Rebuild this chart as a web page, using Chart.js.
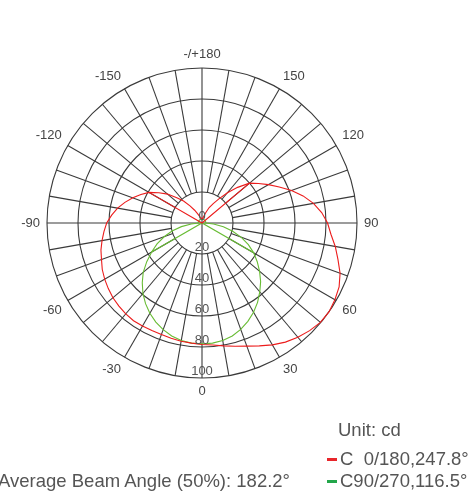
<!DOCTYPE html>
<html>
<head>
<meta charset="utf-8">
<script src="https://cdn.jsdelivr.net/npm/chart.js@4.4.0/dist/chart.umd.min.js"></script>
<style>
  body { margin: 0; background: #fff; font-family: "Liberation Sans", Arial, sans-serif; color: #555; }
  #wrap { position: relative; width: 474px; height: 493px; overflow: hidden; }
  #c { position: absolute; left: 0; top: 0; }
  .txt { position: absolute; font-size: 18.5px; line-height: 1; white-space: pre; }
  .dash { position: absolute; width: 10px; height: 3px; }
</style>
</head>
<body>
<div id="wrap">
  <canvas id="c" width="474" height="493"></canvas>
  <div class="txt" style="left:338px; top:421px;">Unit: cd</div>
  <div class="dash" style="left:327px; top:458px; background:#e8262b;"></div>
  <div class="txt" style="left:340px; top:450px;">C  0/180,247.8°</div>
  <div class="dash" style="left:327px; top:480px; background:#23a64a;"></div>
  <div class="txt" style="left:340px; top:472px;">C90/270,116.5°</div>
  <div class="txt" style="right:184px; top:472px;">Average Beam Angle (50%): 182.2°</div>
</div>
<script>
// gamma angles, clockwise from the top (180) round to -175
var angles = [];
for (var a = 180; a > -180; a -= 5) angles.push(a);

// relative intensity (0..100)
var redValues = [
  3, 3, 3, 4.5, 7, 11, 14.5, 19, 25.5, 32.5, 40, 44.5,
  49.5, 55, 61.5, 67.5, 73, 77.5, 81, 83.5, 87.3, 90.8, 94.8, 97.6,
  99, 100, 99.7, 98.2, 96.2, 93.8, 90.8, 87.5, 84.5, 82.3, 80.5, 79,
  78.4, 77.8, 77.5, 77, 76.5, 76.5, 76.8, 77, 76.5, 75.8, 75, 73.8,
  72.5, 71, 69, 67.5, 65.5, 63.5, 61.5, 58.5, 55.3, 51.5, 47.5, 43.5,
  39.5, 34, 29, 23, 18.5, 13.5, 9.5, 6.5, 4.5, 3.5, 3, 3
];
var greenValues = [
  2.5, 2.5, 2.5, 2.5, 2.5, 2.5, 2.5, 2.5, 2.5, 2.5, 2.5, 2.5,
  2.5, 2.5, 2.5, 2.5, 2.5, 2.5, 2, 7.5, 14, 20.5, 27, 33,
  38.5, 43.5, 48.5, 53.5, 58, 62.5, 66.5, 70, 73, 75.5, 77, 77.8,
  78, 77.8, 77, 75.5, 73.2, 70.5, 67.3, 63.5, 59.3, 54.5, 49.5, 43.5,
  37.5, 32, 26, 20, 13.5, 7, 2, 2.5, 2.5, 2.5, 2.5, 2.5,
  2.5, 2.5, 2.5, 2.5, 2.5, 2.5, 2.5, 2.5, 2.5, 2.5, 2.5, 2.5
];
// the straight strokes from the pole out to the curve
var redSpikeAngles = [130, -120];
var greenSpikeAngles = [60, -60];

var ringTicks = [0, 20, 40, 60, 80, 100];
var angleTicks = [180, 150, 120, 90, 60, 30, 0, -30, -60, -90, -120, -150];

function spikeData(values, spikeAngles) {
  var out = angles.map(function () { return null; });
  out[0] = 0;
  spikeAngles.forEach(function (a, k) {
    var i = angles.indexOf(a);
    out[i] = values[i];
    if (k < spikeAngles.length - 1) out[i + 10] = 0;
  });
  return out;
}

var GRID = '#3a3a3a';

var polarDecor = {
  id: 'polarDecor',
  beforeDatasetsDraw: function (chart) {
    var r = chart.scales.r, ctx = chart.ctx;
    ctx.save();
    ctx.strokeStyle = GRID;
    ctx.lineWidth = 1.1;
    // spokes every 10 deg, starting at the 20 ring
    for (var i = 0; i < angles.length; i += 2) {
      if (i % 18 === 0) continue;
      var p1 = r.getPointPositionForValue(i, 20);
      var p2 = r.getPointPositionForValue(i, 100);
      ctx.beginPath();
      ctx.moveTo(p1.x, p1.y);
      ctx.lineTo(p2.x, p2.y);
      ctx.stroke();
    }
    ctx.restore();
  },
  afterDraw: function (chart) {
    var r = chart.scales.r, ctx = chart.ctx;
    ctx.save();
    ctx.font = '13px "Liberation Sans", Arial, sans-serif';
    // ring values down the 0 axis
    ctx.fillStyle = '#555';
    ctx.textAlign = 'center';
    ctx.textBaseline = 'middle';
    ringTicks.forEach(function (v) {
      var d = r.getDistanceFromCenterForValue(v);
      ctx.fillText(String(v), r.xCenter, r.yCenter + d - 6.5);
    });
    // angle labels round the outside
    ctx.fillStyle = '#444';
    angleTicks.forEach(function (a) {
      var i = angles.indexOf(a);
      var deg = i * 5;
      var p = r.getPointPosition(i, r.drawingArea + 7);
      ctx.textAlign = (deg === 0 || deg === 180) ? 'center' : (deg < 180 ? 'left' : 'right');
      if (deg === 90 || deg === 270) ctx.textBaseline = 'middle';
      else if (deg < 90 || deg > 270) ctx.textBaseline = 'bottom';
      else ctx.textBaseline = 'top';
      ctx.fillText(a === 180 ? '-/+180' : String(a), p.x, p.y);
    });
    ctx.restore();
  }
};

new Chart(document.getElementById('c').getContext('2d'), {
  type: 'radar',
  data: {
    labels: angles,
    datasets: [{
      label: 'C0/180',
      data: redValues,
      borderColor: 'rgb(236, 28, 28)',
      borderWidth: 1.1,
      fill: false,
      pointRadius: 0
    }, {
      label: 'C0/180 spikes',
      data: spikeData(redValues, redSpikeAngles),
      borderColor: 'rgb(236, 28, 28)',
      borderWidth: 1.1,
      fill: false,
      pointRadius: 0,
      spanGaps: true
    }, {
      label: 'C90/270',
      data: greenValues,
      borderColor: 'rgb(104, 188, 52)',
      borderWidth: 1.1,
      fill: false,
      pointRadius: 0
    }, {
      label: 'C90/270 spikes',
      data: spikeData(greenValues, greenSpikeAngles),
      borderColor: 'rgb(104, 188, 52)',
      borderWidth: 1.1,
      fill: false,
      pointRadius: 0,
      spanGaps: true
    }]
  },
  options: {
    responsive: false,
    animation: false,
    devicePixelRatio: 1,
    layout: { padding: { left: 47, right: 117, top: 68, bottom: 115 } },
    elements: { line: { tension: 0 } },
    plugins: { legend: { display: false }, tooltip: { enabled: false } },
    scales: {
      r: {
        min: 0,
        max: 100,
        ticks: { stepSize: 20, display: false },
        pointLabels: { display: false },
        grid: { circular: true, color: GRID, lineWidth: 1.1 },
        angleLines: {
          color: GRID,
          lineWidth: function (c) { return c.index % 18 === 0 ? 1.1 : 0; }
        }
      }
    }
  },
  plugins: [polarDecor]
});
</script>
</body>
</html>
